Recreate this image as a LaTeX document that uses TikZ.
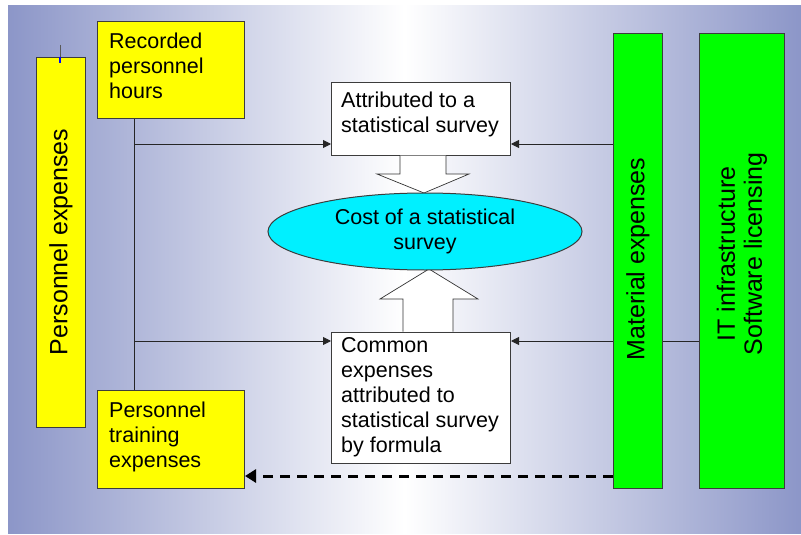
\documentclass[tikz,border=0pt]{standalone}
\usepackage{fontspec}
\setmainfont{Liberation Sans}
\usetikzlibrary{arrows.meta,shapes.geometric}
\definecolor{bgblue}{RGB}{140,150,200}
\definecolor{boxline}{RGB}{60,60,60}
\definecolor{ybox}{RGB}{255,255,0}
\definecolor{gbox}{RGB}{0,255,0}
\definecolor{cbox}{RGB}{0,240,255}
\tikzset{
  panel/.style={draw=boxline, line width=1pt, inner sep=0pt, anchor=north west},
  ypanel/.style={panel, fill=ybox},
  gpanel/.style={panel, fill=gbox},
  wpanel/.style={panel, fill=white},
  txt/.style={font=\fontsize{21.5}{25}\selectfont, inner sep=0pt, align=left, anchor=north west},
  rtxt/.style={font=\fontsize{25}{27}\selectfont, inner sep=0pt, align=center, rotate=90},
  conn/.style={draw=black!85, line width=0.9pt, -{Triangle[length=8pt,width=8pt]}},
  plain/.style={draw=black!85, line width=0.9pt},
  dconn/.style={draw=black, line width=3pt, dash pattern=on 10pt off 7pt, -{Triangle[length=11pt,width=13pt]}},
  barrow/.style={draw=black!80, line width=0.7pt, fill=white},
}
\begin{document}
\begin{tikzpicture}[x=1pt,y=-1pt]
\useasboundingbox (0,0) rectangle (801,535);
\shade[left color=bgblue, right color=bgblue, middle color=white] (8,6) rectangle (801,533);

% bars and boxes
\node[ypanel, minimum width=49pt, minimum height=370pt] (pers) at (36,57) {};
\node[ypanel, minimum width=147pt, minimum height=97pt] (rec) at (97,21) {};
\node[ypanel, minimum width=147pt, minimum height=98pt] (train) at (97,390) {};
\node[wpanel, minimum width=179pt, minimum height=73pt] (att) at (331,82) {};
\node[wpanel, minimum width=179pt, minimum height=131pt] (com) at (331,332) {};
\node[gpanel, minimum width=49pt, minimum height=455pt] (mat) at (613,33) {};
\node[gpanel, minimum width=85pt, minimum height=455pt] (it) at (699,33) {};

% texts
\node[rtxt] (perst) at (pers.center |- 0,242) {Personnel expenses};
\node[rtxt] (matt) at (mat.center |- 0,259) {Material expenses};
\node[rtxt] (itt) at (it.center |- 0,254) {IT infrastructure\\Software licensing};
\node[txt] (rect) at (109,32.5) {Recorded\\personnel\\hours};
\node[txt] (traint) at (109,402) {Personnel\\training\\expenses};
\node[txt] (attt) at (341,92) {Attributed to a\\statistical survey};
\node[txt] (comt) at (341,337.5) {Common\\expenses\\attributed to\\statistical survey\\by formula};

% small tick on the personnel bar
\draw[draw=gray!70!black, line width=1pt] (pers.north -| 60,0) ++(0,-12) -- (pers.north -| 60,0);
\draw[draw=blue, line width=1.2pt] (pers.north -| 60,0) -- ++(0,6);

% block arrows
\draw[barrow] (400,155.5) -- (400,174) -- (377,174) -- (424,193) -- (469,174) -- (446,174) -- (446,155.5);
\draw[barrow] (403,331.5) -- (403,299) -- (380,299) -- (429,269) -- (478,299) -- (453,299) -- (453,331.5);

% ellipse
\node[ellipse, draw=boxline, line width=1pt, fill=cbox, minimum width=314pt, minimum height=77pt, inner sep=0pt,
      font=\fontsize{21.5}{25}\selectfont, align=center] (cost) at (425,231.5) {Cost of a statistical\\survey};

% connectors
\coordinate (j1) at (134,144);
\coordinate (j2) at (134,341);
\coordinate (d) at (613,476);
\draw[plain] (rec.south -| j1) -- (train.north -| j1);
\draw[conn] (j1) -- (att.west |- j1);
\draw[conn] (j2) -- (com.west |- j2);
\draw[conn] (mat.west |- j1) -- (att.east |- j1);
\draw[conn] (mat.west |- j2) -- (com.east |- j2);
\draw[plain] (it.west |- j2) -- (mat.east |- j2);
\draw[dconn] (d) -- (train.east |- d);
\end{tikzpicture}
\end{document}
